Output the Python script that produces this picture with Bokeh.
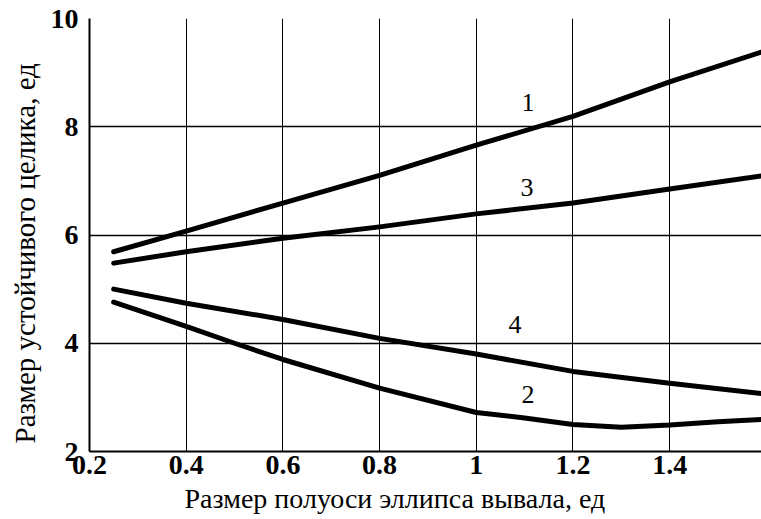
from bokeh.plotting import figure
from bokeh.models import Range1d, FixedTicker, Title
from bokeh.core.properties import value
from bokeh.embed import file_html
from bokeh.resources import INLINE

# Data
x_c1 = [0.25, 0.4, 0.6, 0.8, 1.0, 1.2, 1.4, 1.59]
curve1 = [5.69, 6.07, 6.59, 7.10, 7.66, 8.19, 8.83, 9.38]
x_c3 = [0.25, 0.4, 0.6, 0.8, 1.0, 1.2, 1.4, 1.59]
curve3 = [5.48, 5.69, 5.94, 6.15, 6.39, 6.59, 6.85, 7.09]
x_c4 = [0.25, 0.4, 0.6, 0.8, 1.0, 1.2, 1.4, 1.59]
curve4 = [5.00, 4.74, 4.44, 4.09, 3.80, 3.48, 3.26, 3.07]
x_c2 = [0.25, 0.4, 0.5, 0.6, 0.8, 1.0, 1.1, 1.2, 1.3, 1.4, 1.5, 1.59]
curve2 = [4.76, 4.31, 4.00, 3.70, 3.17, 2.72, 2.62, 2.50, 2.45, 2.49, 2.55, 2.59]

label_text = ["1", "3", "4", "2"]
label_x = [1.107, 1.105, 1.08, 1.107]
label_y = [8.44, 6.87, 4.35, 3.06]

x_ticks = [0.2, 0.4, 0.6, 0.8, 1.0, 1.2, 1.4]
x_tick_labels = ["0.2", "0.4", "0.6", "0.8", "1", "1.2", "1.4"]
y_ticks = [2, 4, 6, 8, 10]
y_tick_labels = ["2", "4", "6", "8", "10"]

x_title = "Размер полуоси эллипса вывала, ед"
y_title = "Размер устойчивого целика, ед"

p = figure(width=761, height=519, output_backend="svg", toolbar_location=None,
           x_range=Range1d(0.2, 1.59), y_range=Range1d(2, 10),
           min_border_left=87, min_border_top=18, min_border_bottom=68, min_border_right=0)

p.outline_line_color = None

for ax in (p.xaxis[0], p.yaxis[0]):
    ax.axis_line_color = "black"
    ax.axis_line_width = 2
    ax.major_tick_line_color = None
    ax.minor_tick_line_color = None
    ax.major_tick_out = 0
    ax.major_tick_in = 0
    ax.minor_tick_out = 0
    ax.minor_tick_in = 0
    ax.major_label_text_font = "Liberation Serif"
    ax.major_label_text_font_style = "bold"
    ax.major_label_text_font_size = "28px"
    ax.major_label_text_color = "black"

p.xaxis.ticker = FixedTicker(ticks=x_ticks)
p.xaxis.major_label_overrides = {t: l for t, l in zip(x_ticks, x_tick_labels)}
p.yaxis.ticker = FixedTicker(ticks=y_ticks)
p.yaxis.major_label_overrides = {t: l for t, l in zip(y_ticks, y_tick_labels)}
p.xaxis.major_label_standoff = 4
p.yaxis.major_label_standoff = 11

p.xgrid.grid_line_color = "black"
p.ygrid.grid_line_color = "black"
p.xgrid.grid_line_width = 1
p.ygrid.grid_line_width = 1.5

lw = 5
for xs, ys in ((x_c1, curve1), (x_c3, curve3), (x_c4, curve4), (x_c2, curve2)):
    p.line(xs, ys, line_color="black", line_width=lw, line_join="round", line_cap="round")

p.text(label_x, label_y, text=label_text, text_font=value("Liberation Serif"),
       text_font_size="26px", text_align="center", text_baseline="middle", text_color="black")

# Axis titles placed like the reference (off-centre)
p.add_layout(Title(text=x_title, align="left", offset=95, standoff=8,
                   text_font="Liberation Serif", text_font_size="28px",
                   text_font_style="normal", text_color="black"), "below")
p.add_layout(Title(text=y_title, align="left", offset=8, standoff=13,
                   text_font="Liberation Serif", text_font_size="29px",
                   text_font_style="normal", text_color="black"), "left")

open("out.html", "w").write(file_html(p, INLINE))
